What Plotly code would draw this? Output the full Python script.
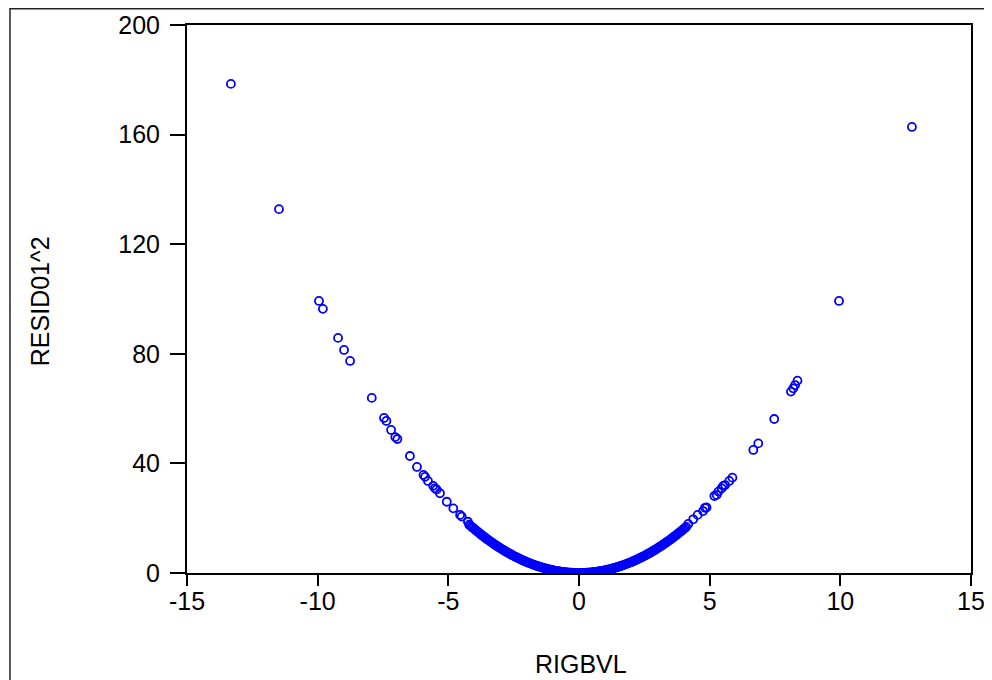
import plotly.graph_objects as go

# Sparse (individually readable) points
left_x = [-13.32, -11.48, -9.95, -9.80, -9.22, -8.99, -8.76, -7.93, -7.46, -7.37,
          -7.19, -7.03, -6.95, -6.47, -6.20, -5.95, -5.89, -5.78, -5.58, -5.51,
          -5.45, -5.32, -5.06, -4.81, -4.55, -4.49, -4.25]
left_y = [178.5, 132.8, 99.3, 96.4, 85.8, 81.4, 77.4, 63.9, 56.6, 55.5,
          52.2, 49.6, 48.9, 42.7, 38.7, 35.8, 35.1, 33.6, 31.8, 30.9,
          30.5, 29.1, 26.0, 23.6, 21.2, 20.6, 18.7]

right_x = [4.18, 4.37, 4.54, 4.75, 4.82, 4.88, 5.18, 5.27, 5.33, 5.46,
           5.52, 5.59, 5.75, 5.87, 6.67, 6.86, 7.47, 8.11, 8.20, 8.27,
           8.36, 9.95, 12.74]
right_y = [17.9, 19.6, 21.2, 22.6, 23.8, 23.9, 28.1, 28.5, 29.7, 30.9,
           31.8, 32.1, 33.6, 34.8, 44.9, 47.3, 56.2, 66.2, 67.4, 68.6,
           70.2, 99.3, 162.8]

# Dense band near the minimum (estimated)
dense_x = [-4.2, -4.1, -4.0, -3.9, -3.8, -3.7, -3.6, -3.5, -3.4, -3.3, -3.2, -3.1,
           -3.0, -2.9, -2.8, -2.7, -2.6, -2.5, -2.4, -2.3, -2.2, -2.1, -2.0, -1.9,
           -1.8, -1.7, -1.6, -1.5, -1.4, -1.3, -1.2, -1.1, -1.0, -0.9, -0.8, -0.7,
           -0.6, -0.5, -0.4, -0.3, -0.2, -0.1, 0.0, 0.1, 0.2, 0.3, 0.4, 0.5,
           0.6, 0.7, 0.8, 0.9, 1.0, 1.1, 1.2, 1.3, 1.4, 1.5, 1.6, 1.7,
           1.8, 1.9, 2.0, 2.1, 2.2, 2.3, 2.4, 2.5, 2.6, 2.7, 2.8, 2.9,
           3.0, 3.1, 3.2, 3.3, 3.4, 3.5, 3.6, 3.7, 3.8, 3.9, 4.0, 4.1]
dense_y = [17.64, 16.81, 16.00, 15.21, 14.44, 13.69, 12.96, 12.25, 11.56, 10.89, 10.24, 9.61,
           9.00, 8.41, 7.84, 7.29, 6.76, 6.25, 5.76, 5.29, 4.84, 4.41, 4.00, 3.61,
           3.24, 2.89, 2.56, 2.25, 1.96, 1.69, 1.44, 1.21, 1.00, 0.81, 0.64, 0.49,
           0.36, 0.25, 0.16, 0.09, 0.04, 0.01, 0.00, 0.01, 0.04, 0.09, 0.16, 0.25,
           0.36, 0.49, 0.64, 0.81, 1.00, 1.21, 1.44, 1.69, 1.96, 2.25, 2.56, 2.89,
           3.24, 3.61, 4.00, 4.41, 4.84, 5.29, 5.76, 6.25, 6.76, 7.29, 7.84, 8.41,
           9.00, 9.61, 10.24, 10.89, 11.56, 12.25, 12.96, 13.69, 14.44, 15.21, 16.00, 16.81]

dense_x2 = [-4.15, -4.05, -3.95, -3.85, -3.75, -3.65, -3.55, -3.45, -3.35, -3.25,
            -3.15, -3.05, -2.95, -2.85, -2.75, -2.65, -2.55, -2.45, -2.35, -2.25,
            -2.15, -2.05, -1.95, -1.85, -1.75, -1.65, -1.55, -1.45, -1.35, -1.25,
            -1.15, -1.05, -0.95, -0.85, -0.75, -0.65, -0.55, -0.45, -0.35, -0.25,
            -0.15, -0.05, 0.05, 0.15, 0.25, 0.35, 0.45, 0.55, 0.65, 0.75,
            0.85, 0.95, 1.05, 1.15, 1.25, 1.35, 1.45, 1.55, 1.65, 1.75,
            1.85, 1.95, 2.05, 2.15, 2.25, 2.35, 2.45, 2.55, 2.65, 2.75,
            2.85, 2.95, 3.05, 3.15, 3.25, 3.35, 3.45, 3.55, 3.65, 3.75,
            3.85, 3.95, 4.05]
dense_y2 = [17.22, 16.40, 15.60, 14.82, 14.06, 13.32, 12.60, 11.90, 11.22, 10.56,
            9.92, 9.30, 8.70, 8.12, 7.56, 7.02, 6.50, 6.00, 5.52, 5.06,
            4.62, 4.20, 3.80, 3.42, 3.06, 2.72, 2.40, 2.10, 1.82, 1.56,
            1.32, 1.10, 0.90, 0.72, 0.56, 0.42, 0.30, 0.20, 0.12, 0.06,
            0.02, 0.00, 0.00, 0.02, 0.06, 0.12, 0.20, 0.30, 0.42, 0.56,
            0.72, 0.90, 1.10, 1.32, 1.56, 1.82, 2.10, 2.40, 2.72, 3.06,
            3.42, 3.80, 4.20, 4.62, 5.06, 5.52, 6.00, 6.50, 7.02, 7.56,
            8.12, 8.70, 9.30, 9.92, 10.56, 11.22, 11.90, 12.60, 13.32, 14.06,
            14.82, 15.60, 16.40]

x_ticks = [-15, -10, -5, 0, 5, 10, 15]
x_ticklabels = ["-15", "-10", "-5", "0", "5", "10", "15"]
y_ticks = [0, 40, 80, 120, 160, 200]
y_ticklabels = ["0", "40", "80", "120", "160", "200"]
x_title = "RIGBVL"
y_title = "RESID01^2"

xs = left_x + dense_x + dense_x2 + right_x
ys = left_y + dense_y + dense_y2 + right_y

FONT = "Arial, Liberation Sans, sans-serif"

fig = go.Figure()
fig.add_trace(go.Scatter(
    x=xs, y=ys, mode="markers",
    marker=dict(symbol="circle-open", size=8, color="#0000FF",
                line=dict(width=1.8, color="#0000FF")),
    showlegend=False, hoverinfo="x+y",
))

axis_common = dict(showgrid=False, zeroline=False, showline=True, linecolor="black",
                   linewidth=2, mirror=True, ticks="outside", tickcolor="black",
                   tickwidth=1.5, tickfont=dict(family=FONT, size=25, color="black"))

fig.update_xaxes(range=[-15, 15], tickvals=x_ticks, ticktext=x_ticklabels, ticklen=11,
                 ticklabelstandoff=-6, **axis_common)
fig.update_yaxes(range=[0, 200], tickvals=y_ticks, ticktext=y_ticklabels, ticklen=15,
                 ticklabelstandoff=5, **axis_common)

# the page body has an 8px margin, so the figure is sized/offset to compensate
fig.update_layout(
    width=984, height=672,
    margin=dict(l=179, r=21, t=17, b=107, autoexpand=False),
    paper_bgcolor="white", plot_bgcolor="white",
    font=dict(family=FONT, color="black"),
    annotations=[
        dict(text=y_title, xref="paper", yref="paper", x=-0.1875, y=0.496,
             textangle=-90, showarrow=False, xanchor="center", yanchor="middle",
             font=dict(family=FONT, size=25, color="black")),
        dict(text=x_title, xref="paper", yref="paper", x=0.5026, y=-0.166,
             showarrow=False, xanchor="center", yanchor="middle",
             font=dict(family=FONT, size=25, color="black")),
    ],
    shapes=[
        dict(type="rect", xref="paper", yref="paper", x0=-0.2258, x1=1.0217,
             y0=-0.25, y1=1.0295, line=dict(color="#222222", width=1.5),
             fillcolor="rgba(0,0,0,0)", layer="below"),
    ],
)

fig.write_html("out.html")
